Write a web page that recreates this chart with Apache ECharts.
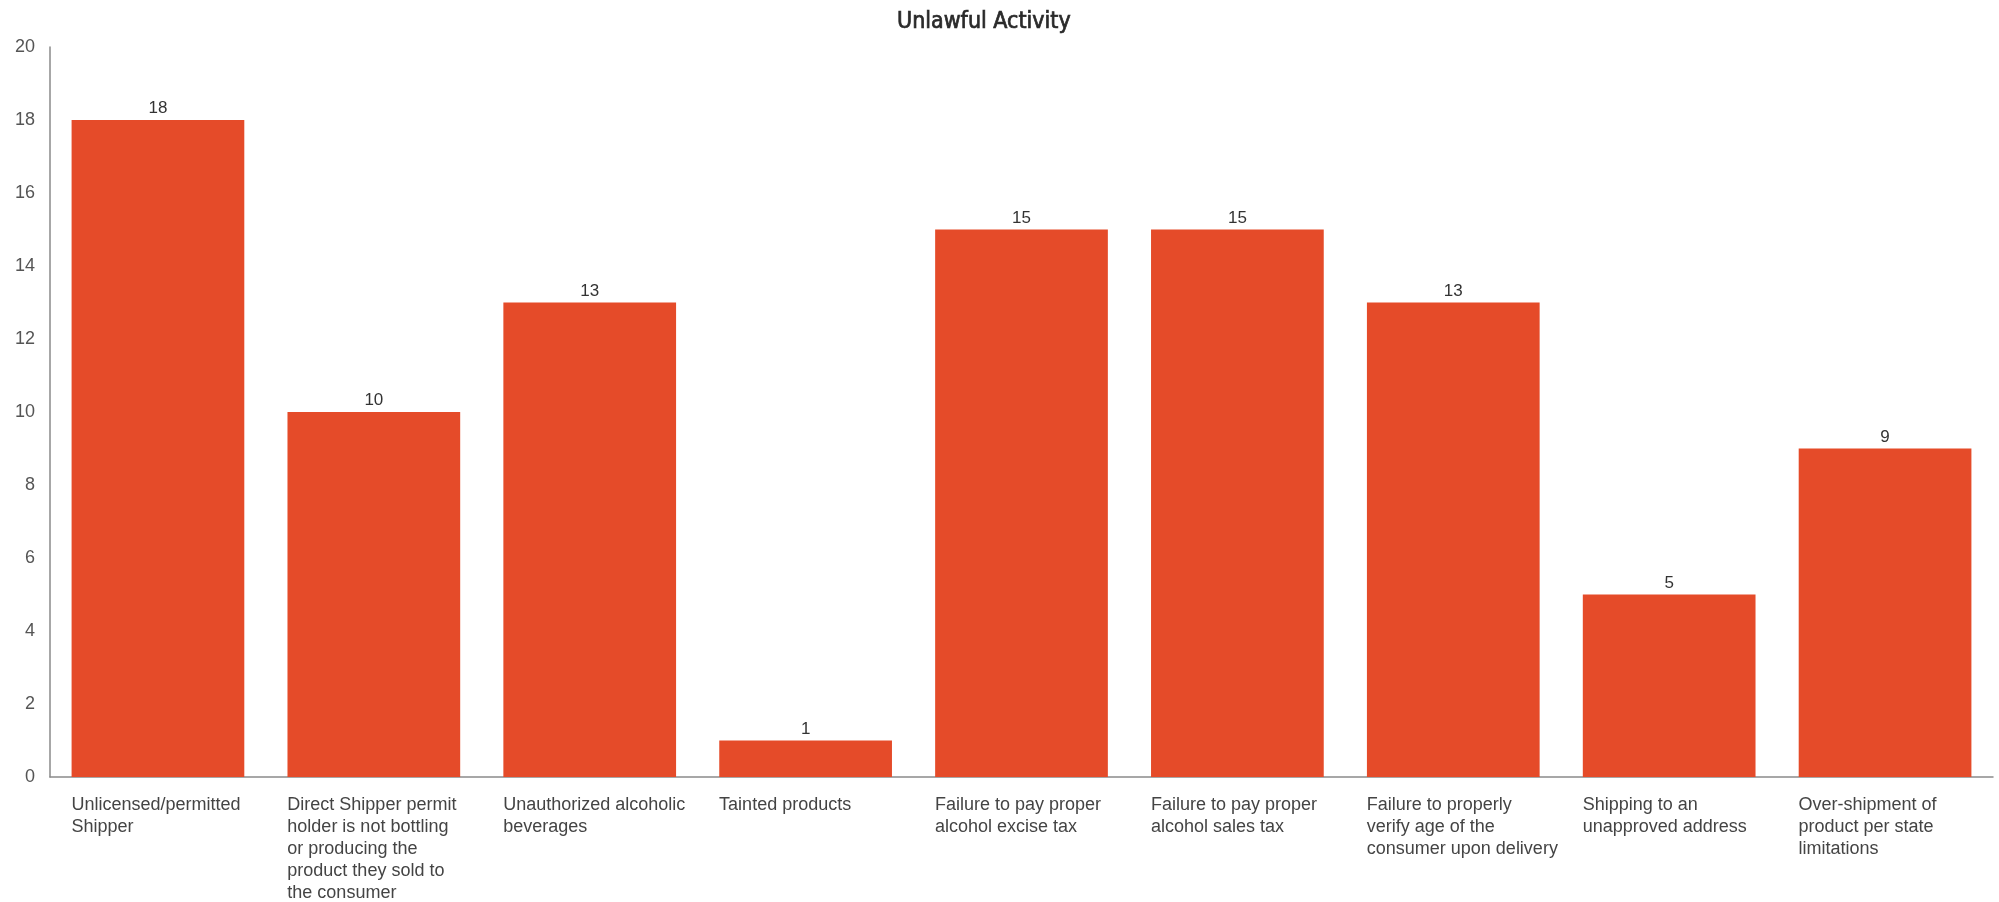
<!DOCTYPE html>
<html><head><meta charset="utf-8">
<script src="https://cdn.jsdelivr.net/npm/echarts@6/dist/echarts.min.js"></script>
<style>html,body{margin:0;padding:0;background:#fff}#c{width:1999px;height:902px}</style>
</head><body><div id="c"></div>
<script>
const title = 'Unlawful Activity';
const categories = [
  'Unlicensed/permitted\nShipper',
  'Direct Shipper permit\nholder is not bottling\nor producing the\nproduct they sold to\nthe consumer',
  'Unauthorized alcoholic\nbeverages',
  'Tainted products',
  'Failure to pay proper\nalcohol excise tax',
  'Failure to pay proper\nalcohol sales tax',
  'Failure to properly\nverify age of the\nconsumer upon delivery',
  'Shipping to an\nunapproved address',
  'Over-shipment of\nproduct per state\nlimitations'
];
const values = [18, 10, 13, 1, 15, 15, 13, 5, 9];
const yMin = 0, yMax = 20, yStep = 2;

const chart = echarts.init(document.getElementById('c'), null, {renderer: 'canvas'});
chart.setOption({
  animation: false,
  backgroundColor: '#fff',
  title: {
    text: title, left: 892, top: 6,
    textStyle: {fontFamily: 'DejaVu Sans Condensed, DejaVu Sans', fontSize: 23, fontWeight: 'normal', color: '#2a2a2a',
      textBorderColor: '#2a2a2a', textBorderWidth: 0.7}
  },
  grid: {left: 50, right: 6, top: 47, bottom: 125, containLabel: false},
  xAxis: {
    type: 'category', data: categories,
    axisLine: {show: true, lineStyle: {color: '#8a8a8a', width: 1.5}},
    axisTick: {show: false},
    axisLabel: {
      interval: 0, margin: 17, align: 'center', verticalAlign: 'top',
      formatter: v => v.split('\n').map(l => '{a|' + l + '}').join('\n'),
      rich: {a: {width: 173, align: 'left', fontFamily: 'Liberation Sans, Arial', fontSize: 18, lineHeight: 22, color: '#444'}}
    }
  },
  yAxis: {
    type: 'value', min: yMin, max: yMax, interval: yStep,
    axisLine: {show: true, lineStyle: {color: '#8a8a8a', width: 1.5}},
    axisTick: {show: false},
    splitLine: {show: false},
    axisLabel: {margin: 15, fontFamily: 'Liberation Sans, Arial', fontSize: 18, color: '#555'}
  },
  series: [{
    type: 'bar', data: values,
    barCategoryGap: '20%',
    itemStyle: {color: '#E54B29'},
    label: {show: true, position: 'top', distance: 3, fontFamily: 'Liberation Sans, Arial', fontSize: 17, color: '#333'}
  }]
});
</script></body></html>
